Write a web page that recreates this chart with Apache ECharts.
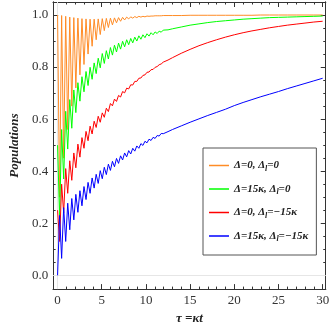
<!DOCTYPE html>
<html>
<head>
<meta charset="utf-8">
<script src="https://cdn.jsdelivr.net/npm/echarts@6/dist/echarts.min.js"></script>
<style>html,body{margin:0;padding:0;background:#fff}#c{width:332px;height:330px}</style>
</head>
<body>
<div id="c"></div>
<script>
// time samples (extrema of the oscillations, then smooth tail)
const tau = [0,0.23,0.46,0.69,0.92,1.15,1.38,1.61,1.84,2.07,2.30,2.53,2.76,2.99,3.22,3.45,3.68,3.91,4.14,4.37,4.60,4.83,5.06,5.29,5.52,5.75,5.98,6.21,6.44,6.67,6.90,7.13,7.36,7.59,7.82,8.05,8.28,8.51,8.74,8.97,9.20,9.43,9.66,9.89,10.12,10.35,10.58,10.81,11.04,11.27,11.50,11.73,11.96,
  12.5,13,14,15,16,17,18,19,20,21,22,23,24,25,26,27,28,29,30];
const orange = [1.00,0.30,0.998,0.45,0.995,0.56,0.992,0.65,0.99,0.72,0.988,0.77,0.986,0.81,0.985,0.85,0.984,0.88,0.984,0.905,0.985,0.925,0.986,0.94,0.987,0.952,0.988,0.962,0.989,0.97,0.99,0.976,0.991,0.981,0.992,0.985,0.993,0.988,0.994,0.99,0.995,0.992,0.995,0.993,0.996,0.995,0.996,0.996,0.997,0.997,0.997,0.997,0.998,
  0.998,0.998,0.998,0.999,0.999,0.999,0.999,0.999,0.999,0.999,0.999,1.0,1.0,1.0,1.0,1.0,1.0,1.0,1.0];
const green = [0.50,0.22,0.56,0.37,0.63,0.485,0.675,0.565,0.712,0.625,0.74,0.669,0.763,0.705,0.783,0.729,0.799,0.753,0.816,0.775,0.834,0.797,0.852,0.814,0.863,0.831,0.875,0.846,0.884,0.858,0.892,0.869,0.899,0.878,0.905,0.886,0.91,0.893,0.915,0.90,0.92,0.907,0.924,0.913,0.928,0.919,0.932,0.924,0.935,0.929,0.938,0.934,0.942,
  0.943,0.947,0.954,0.961,0.966,0.971,0.975,0.978,0.981,0.984,0.986,0.988,0.99,0.991,0.992,0.993,0.994,0.995,0.996];
const red = [0.25,0.13,0.35,0.24,0.41,0.315,0.44,0.365,0.47,0.413,0.504,0.454,0.529,0.488,0.553,0.517,0.573,0.543,0.592,0.568,0.611,0.588,0.624,0.607,0.642,0.629,0.66,0.651,0.677,0.668,0.691,0.685,0.706,0.701,0.719,0.716,0.732,0.731,0.745,0.745,0.757,0.758,0.768,0.77,0.78,0.781,0.79,0.791,0.799,0.802,0.809,0.812,0.819,
  0.827,0.836,0.853,0.868,0.882,0.894,0.905,0.915,0.924,0.932,0.939,0.945,0.951,0.956,0.961,0.965,0.969,0.973,0.976];
const blue = [0.00,0.23,0.065,0.26,0.13,0.277,0.175,0.295,0.213,0.311,0.242,0.325,0.267,0.341,0.291,0.357,0.315,0.374,0.335,0.388,0.353,0.402,0.371,0.415,0.387,0.427,0.403,0.438,0.417,0.449,0.43,0.459,0.443,0.47,0.455,0.479,0.466,0.488,0.477,0.497,0.488,0.506,0.499,0.515,0.509,0.523,0.518,0.53,0.526,0.537,0.535,0.545,0.544,
  0.552,0.56,0.574,0.588,0.601,0.614,0.626,0.638,0.652,0.664,0.675,0.686,0.696,0.706,0.717,0.727,0.737,0.747,0.757];

const seriesNames = ['Δ=0, Δl=0','Δ=15κ, Δl=0','Δ=0, Δl=−15κ','Δ=15κ, Δl=−15κ'];
const legendTexts = ['{a|Δ=0, Δ}{s|l}{a|=0}','{a|Δ=15κ, Δ}{s|l}{a|=0}','{a|Δ=0, Δ}{s|l}{a|=−15κ}','{a|Δ=15κ, Δ}{s|l}{a|=−15κ}'];
const seriesColors = ['#FF8C26','#00FF00','#FF0000','#0000FF'];

const xMajor = [0,5,10,15,20,25,30];
const xMinor = [1,2,3,4,6,7,8,9,11,12,13,14,16,17,18,19,21,22,23,24,26,27,28,29];
const yMajor = [0,0.2,0.4,0.6,0.8,1.0];
const yMinor = [0.05,0.1,0.15,0.25,0.3,0.35,0.45,0.5,0.55,0.65,0.7,0.75,0.85,0.9,0.95];

const FONT = 'Liberation Serif';
const AX = '#333';
const XMIN = -0.5, XMAX = 30.35, YMIN = -0.053, YMAX = 1.05;

function xa(pos, values, len, labels, extra) {
  return Object.assign({
    type: 'value', min: XMIN, max: XMAX, position: pos,
    axisLine: { show: true, onZero: false, lineStyle: { color: AX, width: 1 } },
    axisTick: { show: true, inside: true, length: len, customValues: values, lineStyle: { color: AX } },
    axisLabel: labels ? { show: true, customValues: values, margin: 5, fontFamily: FONT, fontSize: 13, color: '#333', formatter: v => String(v) } : { show: false },
    splitLine: { show: false }
  }, extra || {});
}
function ya(pos, values, len, labels, extra) {
  return Object.assign({
    type: 'value', min: YMIN, max: YMAX, position: pos,
    axisLine: { show: true, onZero: false, lineStyle: { color: AX, width: 1 } },
    axisTick: { show: true, inside: true, length: len, customValues: values, lineStyle: { color: AX } },
    axisLabel: labels ? { show: true, customValues: values, margin: 5, fontFamily: FONT, fontSize: 13, color: '#333', formatter: v => v.toFixed(1) } : { show: false },
    splitLine: { show: false }
  }, extra || {});
}

const richA = { fontFamily: FONT, fontSize: 11, fontStyle: 'italic', fontWeight: 'bold', color: '#222', lineHeight: 14 };
const richS = { fontFamily: FONT, fontSize: 8, fontStyle: 'italic', fontWeight: 'bold', color: '#222', lineHeight: 8, verticalAlign: 'bottom' };

const chart = echarts.init(document.getElementById('c'), null, { renderer: 'canvas' });
chart.setOption({
  backgroundColor: '#fff',
  animation: false,
  grid: { left: 40, right: 0.5, top: 2, bottom: 38, containLabel: false },
  xAxis: [
    xa('bottom', xMajor, 5, true, {
      name: 'τ =κt', nameLocation: 'middle', nameGap: 21,
      nameTextStyle: { fontFamily: FONT, fontSize: 13, fontStyle: 'italic', fontWeight: 'bold', color: '#222' }
    }),
    xa('bottom', xMinor, 2.5, false),
    xa('top', xMajor, 5, false),
    xa('top', xMinor, 2.5, false)
  ],
  yAxis: [
    ya('left', yMajor, 5, true, {
      name: 'Populations', nameLocation: 'middle', nameGap: 26,
      nameTextStyle: { fontFamily: FONT, fontSize: 13, fontStyle: 'italic', fontWeight: 'bold', color: '#222' }
    }),
    ya('left', yMinor, 2.5, false),
    ya('right', yMajor, 5, false),
    ya('right', yMinor, 2.5, false)
  ],
  legend: {
    orient: 'vertical', left: 203, top: 148,
    padding: [12, 8, 12, 6], itemGap: 11,
    itemWidth: 20, itemHeight: 1.5, icon: 'rect',
    borderColor: '#555', borderWidth: 1, backgroundColor: '#fff',
    data: seriesNames,
    formatter: name => legendTexts[seriesNames.indexOf(name)],
    textStyle: { rich: { a: richA, s: richS } }
  },
  series: seriesNames.map((nm, k) => ({
    name: nm, type: 'line', xAxisIndex: 0, yAxisIndex: 0,
    showSymbol: false, symbol: 'none', smooth: false,
    color: seriesColors[k],
    lineStyle: { color: seriesColors[k], width: 1 },
    data: tau.map((t, i) => [t, [orange, green, red, blue][k][i]]),
    z: 3 + k,
    markLine: k === 0 ? {
      silent: true, symbol: 'none', label: { show: false }, z: 1,
      lineStyle: { color: '#e6e6e6', width: 1, type: 'solid' },
      data: [{ yAxis: 0 }, { xAxis: 0 }]
    } : undefined
  }))
});
</script>
</body>
</html>
